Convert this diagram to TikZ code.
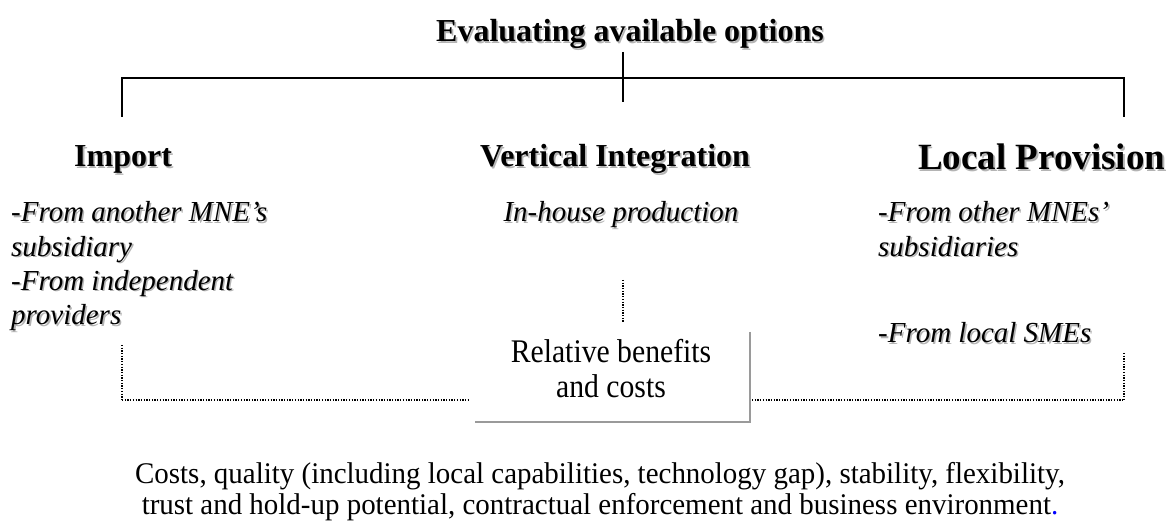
\documentclass[tikz,border=0pt]{standalone}
\usepackage{fontspec}
\setmainfont{Liberation Serif}
\usepackage{graphicx}
\definecolor{shadowgray}{HTML}{B4B4B4}
\definecolor{boxedge}{HTML}{9A9A9A}
% text with a soft drop shadow to the lower right
\newcommand{\shtext}[1]{\leavevmode\rlap{\kern1.6pt\raisebox{-1.6pt}{\textcolor{shadowgray}{#1}}}#1}
\begin{document}
\begin{tikzpicture}[x=1pt, y=-1pt,
  headtext/.style={inner sep=0pt, font=\fontsize{32}{38}\selectfont\bfseries},
  bigheadtext/.style={inner sep=0pt, font=\fontsize{37}{44}\selectfont\bfseries},
  optiontext/.style={inner sep=0pt, align=left, font=\fontsize{29}{34.2}\selectfont\itshape},
  plaintext/.style={inner sep=0pt, align=center},
  treeline/.style={line width=1.8pt, black},
  dotline/.style={line width=1.6pt, black, dash pattern=on 1.3pt off 1.4pt},
  boxedgeline/.style={line width=2pt, boxedge}]
\useasboundingbox (0,0) rectangle (1171,529);

% heading and the three-way branch
\node[headtext, anchor=base] (title) at (630,42) {\shtext{Evaluating available options}};
\coordinate (ctop) at (623,52);
\coordinate (cbot) at (623,102);
\coordinate (bl) at (122,78);
\coordinate (br) at (1124,78);
\coordinate (blend) at (122,117);
\coordinate (brend) at (1124,117);
\draw[treeline] (ctop) -- (cbot);
\draw[treeline, line join=miter] (blend) -- (bl) -- (br) -- (brend);

% the three options
\node[headtext, anchor=base west] (import) at (74,167) {\shtext{Import}};
\node[headtext, anchor=base] (vint) at (615,167) {\shtext{Vertical Integration}};
\node[bigheadtext, anchor=base west] (local) at (918,170) {\shtext{Local Provision}};

% sources under each option (multi-line nodes sit on their last baseline)
\node[optiontext, anchor=base west] (impsrc) at (11,324.6)
  {\shtext{-From another MNE’s}\\ \shtext{subsidiary}\\ \shtext{-From independent}\\ \shtext{providers}};
\node[optiontext, anchor=base] (inhouse) at (621,222) {\shtext{In-house production}};
\node[optiontext, anchor=base west] (locsrc) at (878,256.2)
  {\shtext{-From other MNEs’}\\ \shtext{subsidiaries}};
\node[optiontext, anchor=base west] (smes) at (878,343)
  {\shtext{{\upshape -}From local SMEs}};

% comparison box (only its right and bottom edges show)
\node[plaintext, font=\fontsize{33}{35}\selectfont, anchor=base] (rel) at (611,398)
  {\scalebox{0.9}[1]{Relative benefits}\\ \scalebox{0.9}[1]{and costs}};
\coordinate (boxtr) at (750,332);
\coordinate (boxbr) at (750,422);
\coordinate (boxbl) at (475,422);
\draw[boxedgeline] (boxtr) -- (boxbr) -- (boxbl);

% dotted links to the comparison
\coordinate (ldtop) at (122,345);
\coordinate (ldbot) at (122,400);
\coordinate (rdtop) at (1124,353);
\coordinate (rdbot) at (1124,400);
\coordinate (cdtop) at (623,280);
\coordinate (cdbot) at (623,323);
\coordinate (lin) at (468,400);
\coordinate (rin) at (752,400);
\draw[dotline] (ldtop) -- (ldbot);
\draw[dotline] (rdtop) -- (rdbot);
\draw[dotline] (cdtop) -- (cdbot);
\draw[dotline] (ldbot) -- (lin);
\draw[dotline] (rin) -- (rdbot);

% criteria
\node[plaintext, font=\fontsize{30}{31}\selectfont, anchor=base] (criteria) at (600,514)
  {\scalebox{0.965}[1]{Costs, quality (including local capabilities, technology gap), stability, flexibility,}\\
   \scalebox{0.965}[1]{trust and hold-up potential, contractual enforcement and business environment\textcolor{blue}{.}}};
\end{tikzpicture}
\end{document}
